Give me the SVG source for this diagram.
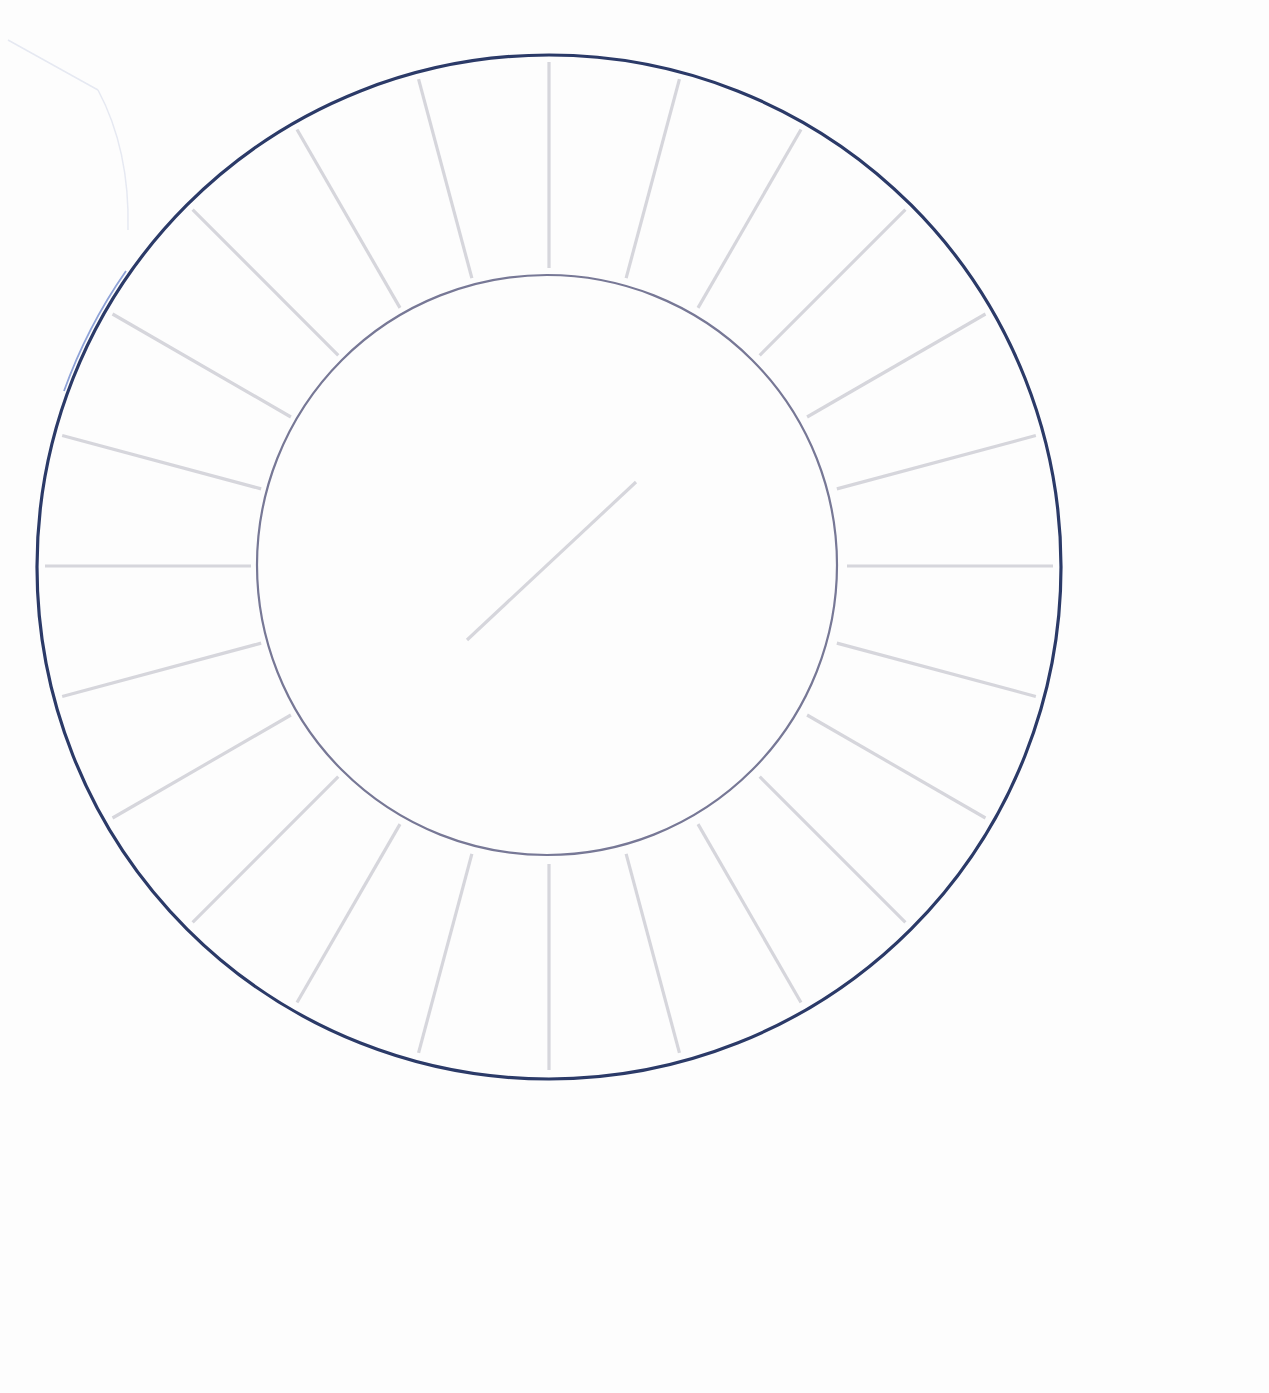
<svg xmlns="http://www.w3.org/2000/svg" width="1269" height="1393" viewBox="0 0 1269 1393">
<style>
.outer{fill:none;stroke:#2b3a68;stroke-width:3.2}
.inner{fill:none;stroke:#777896;stroke-width:2.2}
.spoke{stroke:#d6d6dc;stroke-width:3.2;stroke-linecap:butt}
.faint{fill:none;stroke:#e6e9f2;stroke-width:1.5}
</style>
<rect width="1269" height="1393" fill="#fdfdfd"/>
<g id="connectors">
<g transform="translate(549,566)">
<line class="spoke" x1="0" y1="-298" x2="0" y2="-504"/>
<line class="spoke" x1="0" y1="-298" x2="0" y2="-504" transform="rotate(15)"/>
<line class="spoke" x1="0" y1="-298" x2="0" y2="-504" transform="rotate(30)"/>
<line class="spoke" x1="0" y1="-298" x2="0" y2="-504" transform="rotate(45)"/>
<line class="spoke" x1="0" y1="-298" x2="0" y2="-504" transform="rotate(60)"/>
<line class="spoke" x1="0" y1="-298" x2="0" y2="-504" transform="rotate(75)"/>
<line class="spoke" x1="0" y1="-298" x2="0" y2="-504" transform="rotate(90)"/>
<line class="spoke" x1="0" y1="-298" x2="0" y2="-504" transform="rotate(105)"/>
<line class="spoke" x1="0" y1="-298" x2="0" y2="-504" transform="rotate(120)"/>
<line class="spoke" x1="0" y1="-298" x2="0" y2="-504" transform="rotate(135)"/>
<line class="spoke" x1="0" y1="-298" x2="0" y2="-504" transform="rotate(150)"/>
<line class="spoke" x1="0" y1="-298" x2="0" y2="-504" transform="rotate(165)"/>
<line class="spoke" x1="0" y1="-298" x2="0" y2="-504" transform="rotate(180)"/>
<line class="spoke" x1="0" y1="-298" x2="0" y2="-504" transform="rotate(195)"/>
<line class="spoke" x1="0" y1="-298" x2="0" y2="-504" transform="rotate(210)"/>
<line class="spoke" x1="0" y1="-298" x2="0" y2="-504" transform="rotate(225)"/>
<line class="spoke" x1="0" y1="-298" x2="0" y2="-504" transform="rotate(240)"/>
<line class="spoke" x1="0" y1="-298" x2="0" y2="-504" transform="rotate(255)"/>
<line class="spoke" x1="0" y1="-298" x2="0" y2="-504" transform="rotate(270)"/>
<line class="spoke" x1="0" y1="-298" x2="0" y2="-504" transform="rotate(285)"/>
<line class="spoke" x1="0" y1="-298" x2="0" y2="-504" transform="rotate(300)"/>
<line class="spoke" x1="0" y1="-298" x2="0" y2="-504" transform="rotate(315)"/>
<line class="spoke" x1="0" y1="-298" x2="0" y2="-504" transform="rotate(330)"/>
<line class="spoke" x1="0" y1="-298" x2="0" y2="-504" transform="rotate(345)"/>
</g>
<line class="spoke" x1="467" y1="640" x2="636" y2="482" stroke-width="4"/>
<line class="faint" x1="8" y1="40" x2="98" y2="90"/>
<path class="faint" d="M98 90 Q130 150 128 230"/>
</g>
<g id="outer-ring">
<path d="M64 391 A516 516 0 0 1 126 271" fill="none" stroke="#8fa3d8" stroke-width="1.8"/>
<circle class="outer" cx="549" cy="567" r="512"/>
</g>
<g id="inner-ring">
<circle class="inner" cx="547" cy="565" r="290"/>
</g>
</svg>
